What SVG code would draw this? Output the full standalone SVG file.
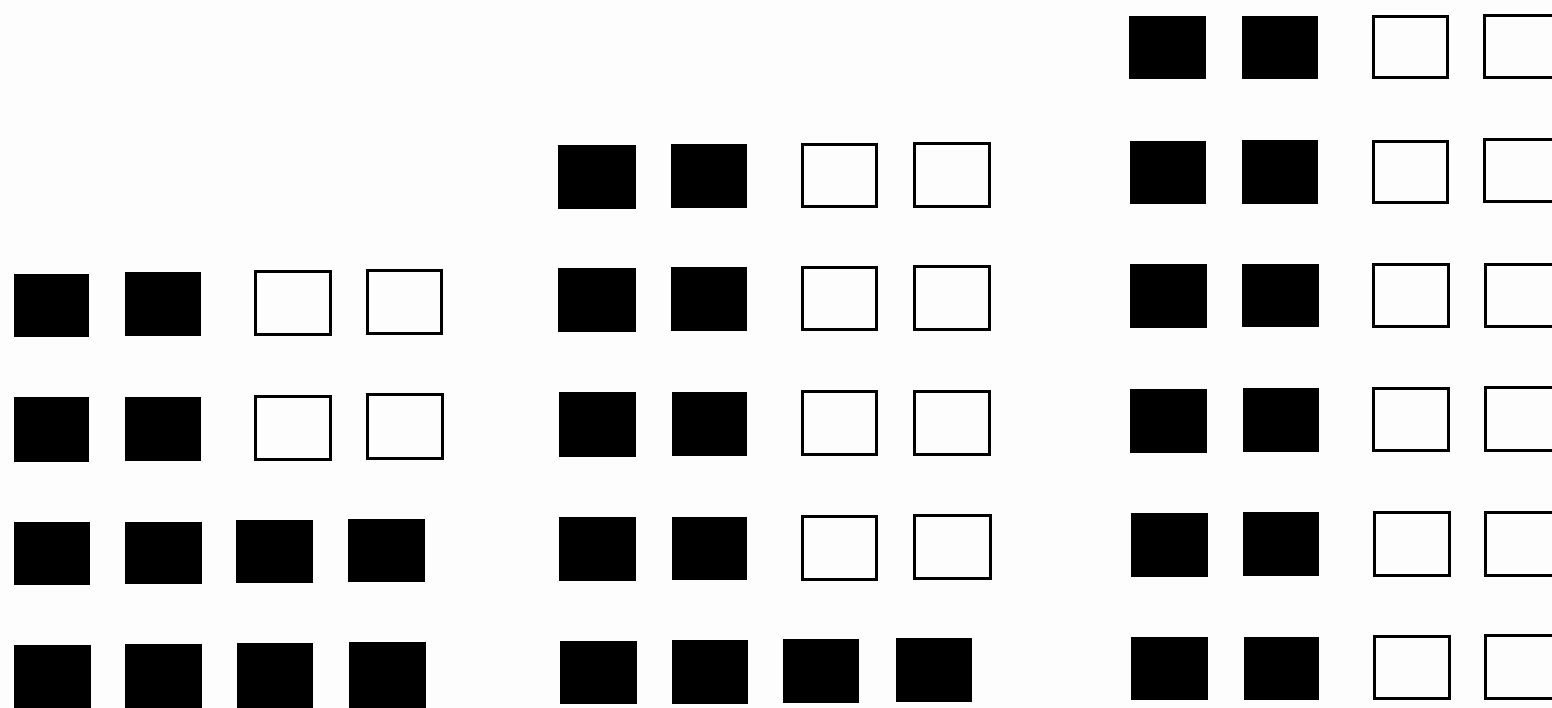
<svg xmlns="http://www.w3.org/2000/svg" width="1552" height="708" viewBox="0 0 1552 708">
<style>
.f{fill:#000}
.o{fill:none;stroke:#000;stroke-width:3}
</style>
<rect x="0" y="0" width="1552" height="708" fill="#fdfdfd"/>
<g id="group1">
<rect class="f" x="14" y="274" width="75" height="63"/>
<rect class="f" x="125" y="272" width="76" height="64"/>
<rect class="o" x="255.5" y="271.5" width="75" height="63"/>
<rect class="o" x="367.5" y="270.5" width="74" height="63"/>
<rect class="f" x="14" y="397" width="75" height="65"/>
<rect class="f" x="125" y="397" width="76" height="64"/>
<rect class="o" x="255.5" y="396.5" width="75" height="63"/>
<rect class="o" x="367.5" y="394.5" width="75" height="64"/>
<rect class="f" x="14" y="522" width="76" height="63"/>
<rect class="f" x="125" y="522" width="77" height="62"/>
<rect class="f" x="236" y="520" width="77" height="63"/>
<rect class="f" x="348" y="519" width="77" height="63"/>
<rect class="f" x="14" y="645" width="77" height="63"/>
<rect class="f" x="125" y="644" width="77" height="64"/>
<rect class="f" x="237" y="643" width="76" height="65"/>
<rect class="f" x="349" y="642" width="77" height="66"/>
</g>
<g id="group2">
<rect class="f" x="558" y="145" width="78" height="64"/>
<rect class="f" x="671" y="144" width="76" height="64"/>
<rect class="o" x="802.5" y="144.5" width="74" height="62"/>
<rect class="o" x="914.5" y="143.5" width="75" height="63"/>
<rect class="f" x="558" y="268" width="78" height="64"/>
<rect class="f" x="671" y="267" width="76" height="64"/>
<rect class="o" x="802.5" y="267.5" width="74" height="62"/>
<rect class="o" x="914.5" y="266.5" width="75" height="63"/>
<rect class="f" x="559" y="392" width="77" height="65"/>
<rect class="f" x="672" y="392" width="75" height="64"/>
<rect class="o" x="802.5" y="391.5" width="74" height="63"/>
<rect class="o" x="914.5" y="391.5" width="75" height="63"/>
<rect class="f" x="559" y="517" width="77" height="64"/>
<rect class="f" x="672" y="517" width="75" height="63"/>
<rect class="o" x="802.5" y="516.5" width="74" height="63"/>
<rect class="o" x="914.5" y="515.5" width="76" height="63"/>
<rect class="f" x="560" y="641" width="77" height="63"/>
<rect class="f" x="672" y="640" width="76" height="64"/>
<rect class="f" x="783" y="639" width="76" height="64"/>
<rect class="f" x="896" y="638" width="76" height="64"/>
</g>
<g id="group3">
<rect class="f" x="1129" y="16" width="77" height="63"/>
<rect class="f" x="1242" y="16" width="76" height="63"/>
<rect class="o" x="1373.5" y="16.5" width="74" height="61"/>
<rect class="o" x="1484.5" y="15.5" width="80" height="62"/>
<rect class="f" x="1130" y="141" width="76" height="63"/>
<rect class="f" x="1242" y="140" width="76" height="64"/>
<rect class="o" x="1373.5" y="141.5" width="74" height="61"/>
<rect class="o" x="1484.5" y="139.5" width="80" height="62"/>
<rect class="f" x="1130" y="264" width="77" height="64"/>
<rect class="f" x="1242" y="264" width="77" height="63"/>
<rect class="o" x="1373.5" y="264.5" width="75" height="62"/>
<rect class="o" x="1485.5" y="264.5" width="80" height="62"/>
<rect class="f" x="1130" y="389" width="77" height="64"/>
<rect class="f" x="1243" y="388" width="76" height="64"/>
<rect class="o" x="1373.5" y="388.5" width="75" height="62"/>
<rect class="o" x="1485.5" y="387.5" width="80" height="63"/>
<rect class="f" x="1131" y="513" width="77" height="64"/>
<rect class="f" x="1243" y="512" width="76" height="64"/>
<rect class="o" x="1374.5" y="512.5" width="75" height="63"/>
<rect class="o" x="1485.5" y="512.5" width="80" height="63"/>
<rect class="f" x="1131" y="637" width="77" height="63"/>
<rect class="f" x="1244" y="637" width="75" height="63"/>
<rect class="o" x="1374.5" y="636.5" width="75" height="62"/>
<rect class="o" x="1485.5" y="635.5" width="80" height="63"/>
</g>
</svg>
